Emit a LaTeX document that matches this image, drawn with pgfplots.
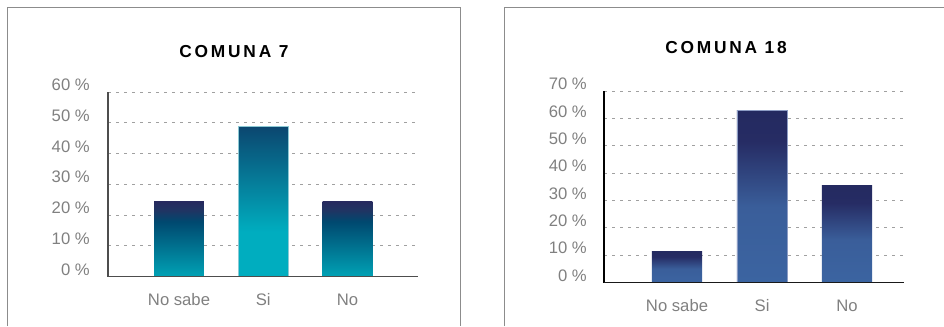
\documentclass[border=0pt]{standalone}
\usepackage{fontspec}
\setmainfont{Liberation Sans}
\newfontfamily\titlefont{Liberation Sans}[LetterSpace=16]
\usepackage{pgfplots}
\pgfplotsset{compat=1.18}

% bar and chart colours
\definecolor{ticktext}{HTML}{808080}
\definecolor{gridc}{HTML}{A0A0A0}
\definecolor{framec}{HTML}{8C8C8C}
\definecolor{axisgray}{HTML}{4D4D4D}
\definecolor{navyA}{HTML}{262A5E}
\definecolor{navyB}{HTML}{1F3563}
\definecolor{petrol}{HTML}{00486F}
\definecolor{tealbot}{HTML}{00A2B5}
\definecolor{talltop}{HTML}{0B4770}
\definecolor{cyan7}{HTML}{00ADBF}
\definecolor{navyC}{HTML}{242A60}
\definecolor{navyD}{HTML}{262C64}
\definecolor{steelA}{HTML}{3A5E9A}
\definecolor{steelB}{HTML}{3B64A1}
\definecolor{edge7}{HTML}{8CC9D4}
\definecolor{edge18}{HTML}{8C9CC4}

% vertical gradients, bottom (25bp) to top (75bp) of each bar
\pgfdeclareverticalshading{cshort}{100bp}{color(0bp)=(tealbot); color(25bp)=(tealbot);
  color(62bp)=(petrol); color(69bp)=(navyB); color(75bp)=(navyA); color(100bp)=(navyA)}
\pgfdeclareverticalshading{ctall}{100bp}{color(0bp)=(cyan7); color(25bp)=(cyan7);
  color(40bp)=(cyan7); color(75bp)=(talltop); color(100bp)=(talltop)}
\pgfdeclareverticalshading{cblue}{100bp}{color(0bp)=(steelB); color(25bp)=(steelB);
  color(47bp)=(steelA); color(66bp)=(navyD); color(75bp)=(navyC); color(100bp)=(navyC)}

\pgfplotsset{
  panel/.style={
    scale only axis,
    anchor=south west,
    axis x line=bottom,
    axis y line=left,
    axis line style={-},
    enlarge x limits=false,
    enlarge y limits=false,
    ymin=0,
    xtick={0,1,2},
    xticklabels={No sabe,Si,No},
    major tick length=0pt,
    tick style={draw=none},
    ymajorgrids,
    grid style={gridc, line width=0.75pt, dash pattern=on 2.25pt off 3.75pt},
    /pgf/number format/assume math mode=true,
    yticklabel={\pgfmathprintnumber{\tick}~\%},
    tick label style={font=\fontsize{12.5pt}{15pt}\selectfont, text=ticktext},
    yticklabel style={anchor=base east, inner sep=0pt, yshift=1pt},
    xticklabel style={anchor=base, inner sep=0pt, yshift=-22pt},
  },
  onebar/.style={ybar, bar width=0.59, bar shift=0pt, draw=none},
}

\begin{document}
\begin{tikzpicture}
\path[use as bounding box] (0pt,0pt) rectangle (708pt,244.5pt);

% panel frames
\draw[framec, line width=0.75pt] (5.5pt,0pt) -- (5.5pt,239pt) -- (345.5pt,239pt) -- (345.5pt,0pt);
\draw[framec, line width=0.75pt] (378.25pt,0pt) -- (378.25pt,239pt) -- (708pt,239pt);

% COMUNA 7
\begin{axis}[panel,
  at={(81pt,37.1pt)}, width=232.5pt, height=138.4pt,
  xmin=-0.843, xmax=2.837, ymax=60,
  ytick={0,10,...,60},
  yticklabel style={xshift=-13.5pt},
  x axis line style={axisgray, line width=1.1pt},
  y axis line style={axisgray, line width=0.9pt},
]
\addplot[onebar, shading=cshort] coordinates {(0,24.3)};
\addplot[onebar, shading=ctall, draw=edge7, line width=0.5pt] coordinates {(1,48.7)};
\addplot[onebar, shading=cshort] coordinates {(2,24.3)};
% baseline redrawn over the bars
\draw[axisgray, line width=1.1pt] (rel axis cs:0,0) -- (rel axis cs:1,0);
\end{axis}
\node[anchor=base, font=\titlefont\bfseries\fontsize{13pt}{15pt}\selectfont] at (175.5pt,201.5pt) {COMUNA 7};

% COMUNA 18
\begin{axis}[panel,
  at={(453pt,32.6pt)}, width=225pt, height=143.6pt,
  xmin=-0.859, xmax=2.67, ymax=70,
  ytick={0,10,...,70},
  yticklabel style={xshift=-12.75pt},
  x axis line style={black!90, line width=1.1pt},
  y axis line style={black, line width=0.9pt},
]
\addplot[onebar, shading=cblue] coordinates {(0,11.5)};
\addplot[onebar, shading=cblue, draw=edge18, line width=0.5pt] coordinates {(1,63)};
\addplot[onebar, shading=cblue] coordinates {(2,35.5)};
\draw[black!90, line width=1.1pt] (rel axis cs:0,0) -- (rel axis cs:1,0);
\end{axis}
\node[anchor=base, font=\titlefont\bfseries\fontsize{13pt}{15pt}\selectfont] at (544.5pt,204.75pt) {COMUNA 18};
\end{tikzpicture}
\end{document}
